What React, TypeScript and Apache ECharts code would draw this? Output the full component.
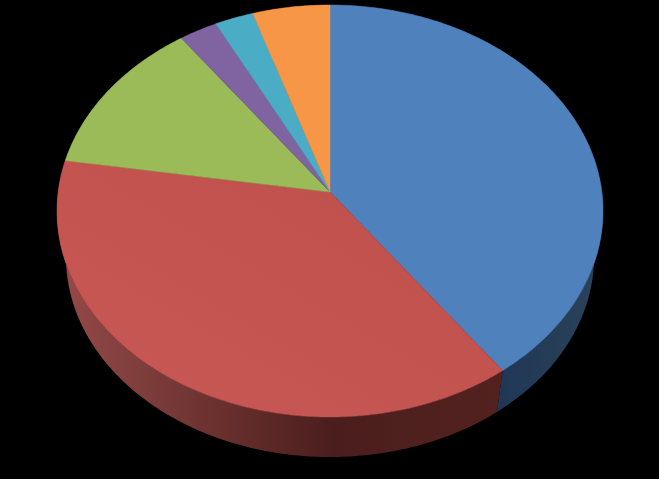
import React, { useEffect, useRef } from "react";
import * as echarts from "echarts";

const sliceNames = ["Blue", "Red", "Green", "Purple", "Teal", "Orange"];
const sliceValues = [40, 37.5, 12.5, 2.5, 2.5, 5];
const topColors = ["#4f81bd", "#c0504d", "#9bbb59", "#8064a2", "#4bacc6", "#f79646"];
const redTopStops: Array<[number, string]> = [[0, "#c85956"], [0.55, "#c2534f"], [1, "#be504d"]];

const wallStops: Array<Array<[number, string]>> = [
  [[0, "#1f3756"], [0.6, "#1f3756"], [1, "#2c4259"]],
  [[0, "#964a49"], [0.2, "#7c3d3b"], [0.38, "#682f2d"], [0.62, "#4a1e1d"], [1, "#53221f"]],
  [[0, "#4a5a2a"], [1, "#4a5a2a"]],
  [[0, "#3e3050"], [1, "#3e3050"]],
  [[0, "#245460"], [1, "#245460"]],
  [[0, "#784820"], [1, "#784820"]],
];

const TOP = { cx: 330, cy: 211, rx: 273, ry: 206 };
const BOTTOM = { cx: 330, cy: 257, rx: 264, ry: 200 };
const TILT = -0.092;

function project(e: typeof TOP, angle: number): [number, number] {
  const px = Math.sin(angle);
  const py = -Math.cos(angle);
  const d = 1 + TILT * py;
  const u = (px * Math.sqrt(1 - TILT * TILT)) / d;
  const v = (py + TILT) / d;
  return [e.cx + e.rx * u, e.cy + e.ry * v];
}

function arc(e: typeof TOP, a0: number, a1: number): Array<[number, number]> {
  const n = Math.max(2, Math.ceil(Math.abs(a1 - a0) / 0.01));
  const pts: Array<[number, number]> = [];
  for (let i = 0; i <= n; i++) pts.push(project(e, a0 + ((a1 - a0) * i) / n));
  return pts;
}

const total = sliceValues.reduce((a, b) => a + b, 0);
function sweep(index: number): [number, number] {
  let acc = 0;
  for (let i = 0; i < index; i++) acc += sliceValues[i];
  return [(acc / total) * Math.PI * 2, ((acc + sliceValues[index]) / total) * Math.PI * 2];
}

export default function App() {
  const ref = useRef<HTMLDivElement>(null);
  useEffect(() => {
    document.body.style.margin = "0";
    document.body.style.background = "#000";
    const chart = echarts.init(ref.current!, undefined, { renderer: "svg" });
    const data = sliceValues.map((value, i) => ({ name: sliceNames[i], value }));
    chart.setOption({
      animation: false,
      backgroundColor: "#000000",
      series: [
        {
          type: "custom",
          coordinateSystem: "none",
          silent: true,
          data,
          z: 1,
          renderItem: (params: any) => {
            const [a0, a1] = sweep(params.dataIndex);
            const pts = [...arc(TOP, a0, a1), ...arc(BOTTOM, a1, a0)];
            return {
              type: "polygon",
              shape: { points: pts },
              style: {
                fill: {
                  type: "linear", x: 0, y: 0, x2: 1, y2: 0,
                  colorStops: wallStops[params.dataIndex].map(([offset, color]) => ({ offset, color })),
                },
              },
            };
          },
        },
        {
          type: "custom",
          coordinateSystem: "none",
          silent: true,
          data,
          z: 2,
          renderItem: (params: any) => {
            const [a0, a1] = sweep(params.dataIndex);
            const apex: [number, number] = [TOP.cx, TOP.cy + TOP.ry * TILT];
            const pts = [apex, ...arc(TOP, a0, a1)];
            const c = topColors[params.dataIndex];
            const fill = params.dataIndex === 1
              ? {
                  type: "linear", x: 0, y: 1, x2: 1, y2: 0,
                  colorStops: redTopStops.map(([offset, color]) => ({ offset, color })),
                }
              : c;
            return {
              type: "polygon",
              shape: { points: pts },
              style: { fill, stroke: params.dataIndex === 1 ? "#c2534f" : c, lineWidth: 0.5 },
            };
          },
        },
      ],
    });
    return () => chart.dispose();
  }, []);
  return <div ref={ref} style={{ width: 659, height: 479, background: "#000" }} />;
}
